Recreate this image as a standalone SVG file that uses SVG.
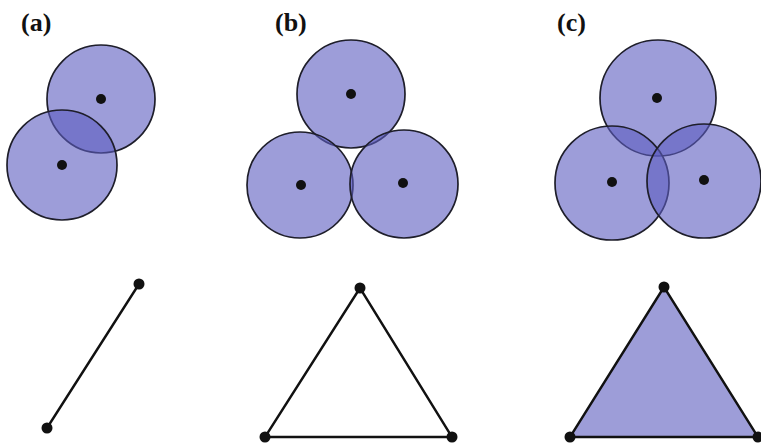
<svg xmlns="http://www.w3.org/2000/svg" width="761" height="443" viewBox="0 0 761 443">
<style>
.disk{fill:#5c5cc0;fill-opacity:0.6;stroke:#1e1e2a;stroke-width:1.7}
.dot{fill:#111}
.edge{stroke:#111;stroke-width:2.4;fill:none;stroke-linecap:round}
.lbl{font-family:"Liberation Serif",serif;font-weight:bold;font-size:26px;fill:#111}
</style>
<rect width="761" height="443" fill="#fff"/>
<g id="label-a"><text class="lbl" x="21" y="31">(a)</text></g>
<g id="label-b"><text class="lbl" x="275" y="31">(b)</text></g>
<g id="label-c"><text class="lbl" x="557" y="31">(c)</text></g>
<g id="a-disks">
<circle class="disk" cx="101" cy="99" r="54"/>
<circle class="disk" cx="62" cy="165" r="55"/>
<circle class="dot" cx="101" cy="99" r="5"/>
<circle class="dot" cx="62" cy="165" r="5"/>
</g>
<g id="b-disks">
<circle class="disk" cx="351" cy="94" r="54"/>
<circle class="disk" cx="300" cy="185" r="53"/>
<circle class="disk" cx="404" cy="184" r="54"/>
<circle class="dot" cx="351" cy="94" r="5"/>
<circle class="dot" cx="301" cy="185" r="5"/>
<circle class="dot" cx="403" cy="183" r="5"/>
</g>
<g id="c-disks">
<circle class="disk" cx="658" cy="98" r="58"/>
<circle class="disk" cx="612" cy="183" r="57"/>
<circle class="disk" cx="704" cy="181" r="57"/>
<circle class="dot" cx="657" cy="98" r="5"/>
<circle class="dot" cx="612" cy="182" r="5"/>
<circle class="dot" cx="704" cy="180" r="5"/>
</g>
<g id="connectors">
<line class="edge" x1="47" y1="428" x2="139" y2="284"/>
<polygon class="edge" points="360,288 265,437 452,437"/>
<polygon class="edge" points="664,287 570,437 758,437" style="fill:#9d9dd8"/>
</g>
<g id="a-vertices">
<circle class="dot" cx="139" cy="284" r="5.5"/>
<circle class="dot" cx="47" cy="428" r="5.5"/>
</g>
<g id="b-vertices">
<circle class="dot" cx="360" cy="288" r="5.5"/>
<circle class="dot" cx="265" cy="437" r="5.5"/>
<circle class="dot" cx="452" cy="437" r="5.5"/>
</g>
<g id="c-vertices">
<circle class="dot" cx="664" cy="287" r="5.5"/>
<circle class="dot" cx="570" cy="437" r="5.5"/>
<circle class="dot" cx="758" cy="437" r="5.5"/>
</g>
</svg>
